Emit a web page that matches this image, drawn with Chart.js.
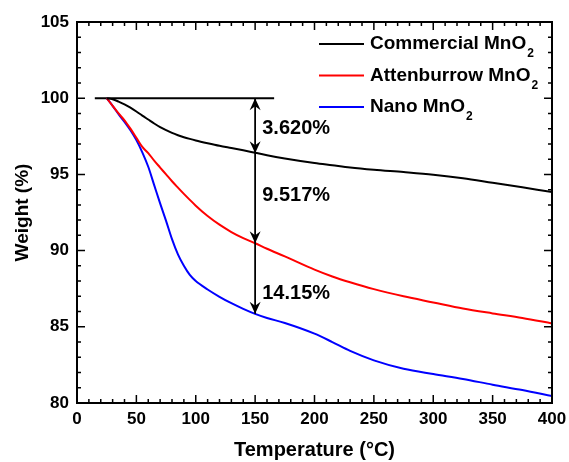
<!DOCTYPE html>
<html>
<head>
<meta charset="utf-8">
<script src="https://cdn.jsdelivr.net/npm/chart.js@4.4.0/dist/chart.umd.min.js"></script>
<style>
  html, body { margin: 0; padding: 0; background: #fff; }
</style>
</head>
<body>
<canvas id="tgaChart" width="569" height="462"></canvas>
<script>
// temperature (°C) and weight (%)
const temps       = [25, 30, 35, 40, 45, 50, 55, 60, 65, 70, 75, 80, 85, 90, 95, 100, 110, 120, 130, 140, 150, 160, 175, 200, 215, 230, 250, 275, 300, 325, 350, 375, 400];
const commercial  = [100, 99.93, 99.78, 99.6, 99.38, 99.13, 98.86, 98.6, 98.34, 98.1, 97.9, 97.72, 97.57, 97.44, 97.33, 97.23, 97.05, 96.88, 96.73, 96.58, 96.42, 96.26, 96.05, 95.75, 95.6, 95.45, 95.3, 95.15, 94.98, 94.75, 94.45, 94.15, 93.85];
const attenburrow = [100, 99.5, 99.0, 98.55, 98.0, 97.4, 96.8, 96.4, 95.9, 95.45, 95.0, 94.55, 94.13, 93.72, 93.33, 92.95, 92.27, 91.7, 91.22, 90.82, 90.48, 90.12, 89.62, 88.75, 88.3, 87.92, 87.47, 87.0, 86.6, 86.2, 85.88, 85.58, 85.22];
const nano        = [100, 99.5, 98.95, 98.45, 97.9, 97.25, 96.45, 95.5, 94.3, 93.1, 91.95, 90.75, 89.75, 89.0, 88.4, 88.0, 87.45, 86.97, 86.55, 86.18, 85.85, 85.58, 85.25, 84.55, 84.0, 83.42, 82.8, 82.25, 81.9, 81.58, 81.2, 80.85, 80.45];

const seriesNames = ['Commercial MnO', 'Attenburrow MnO', 'Nano MnO'];
const seriesColors = ['#000000', '#ff0000', '#0000ff'];

// reference line at 100 % and the weight-loss arrow at 150 °C
const refLineX = [15, 166];
const refLineY = [100, 100];
const arrowT = 150;
const arrowStops = [100, 96.38, 90.48, 85.85];
const lossLabels = ['3.620%', '9.517%', '14.15%'];
const lossLabelY = [98.0, 93.6, 87.2];
const lossLabelT = 156;

const toPoints = (xs, ys) => xs.map((t, i) => ({ x: t, y: ys[i] }));

const boldFont = (size) => ({ family: 'Liberation Sans, Arial, sans-serif', size: size, weight: 'bold' });

const decor = {
  id: 'decor',
  afterDatasetsDraw(chart) {
    const { ctx, chartArea: a, scales: { x, y } } = chart;
    ctx.save();
    ctx.strokeStyle = '#000';
    ctx.fillStyle = '#000';

    // inward ticks on all four sides
    ctx.lineWidth = 1.5;
    ctx.beginPath();
    for (let v = 0; v <= 400; v += 10) {
      const px = x.getPixelForValue(v);
      const len = v % 50 === 0 ? 8 : 4;
      ctx.moveTo(px, a.bottom); ctx.lineTo(px, a.bottom - len);
      ctx.moveTo(px, a.top); ctx.lineTo(px, a.top + len);
    }
    for (let v = 80; v <= 105; v += 1) {
      const py = y.getPixelForValue(v);
      const len = v % 5 === 0 ? 8 : 4;
      ctx.moveTo(a.left, py); ctx.lineTo(a.left + len, py);
      ctx.moveTo(a.right, py); ctx.lineTo(a.right - len, py);
    }
    ctx.stroke();

    // frame
    ctx.lineWidth = 2;
    ctx.strokeRect(a.left, a.top, a.right - a.left, a.bottom - a.top);

    // vertical arrow
    const ax = x.getPixelForValue(arrowT);
    ctx.lineWidth = 1.8;
    ctx.beginPath();
    ctx.moveTo(ax, y.getPixelForValue(arrowStops[0]));
    ctx.lineTo(ax, y.getPixelForValue(arrowStops[arrowStops.length - 1]));
    ctx.stroke();
    const head = (py, dir) => {
      ctx.beginPath();
      ctx.moveTo(ax, py);
      ctx.lineTo(ax - 5.5, py - dir * 12);
      ctx.lineTo(ax, py - dir * 8);
      ctx.lineTo(ax + 5.5, py - dir * 12);
      ctx.closePath();
      ctx.fill();
    };
    head(y.getPixelForValue(arrowStops[0]), -1);
    for (let i = 1; i < arrowStops.length; i++) head(y.getPixelForValue(arrowStops[i]), 1);

    // loss labels
    ctx.font = 'bold 20px "Liberation Sans", Arial, sans-serif';
    ctx.textAlign = 'left';
    ctx.textBaseline = 'middle';
    lossLabels.forEach((txt, i) => {
      ctx.fillText(txt, x.getPixelForValue(lossLabelT), y.getPixelForValue(lossLabelY[i]));
    });

    // legend with subscript 2
    seriesNames.forEach((name, i) => {
      const rowY = a.top + 22 + i * 31.5;
      ctx.strokeStyle = seriesColors[i];
      ctx.lineWidth = 2;
      ctx.beginPath();
      ctx.moveTo(a.right - 233, rowY);
      ctx.lineTo(a.right - 188, rowY);
      ctx.stroke();
      ctx.fillStyle = '#000';
      ctx.font = 'bold 19px "Liberation Sans", Arial, sans-serif';
      const tx = a.right - 182;
      ctx.fillText(name, tx, rowY);
      const w = ctx.measureText(name).width;
      ctx.font = 'bold 12px "Liberation Sans", Arial, sans-serif';
      ctx.fillText('2', tx + w + 1, rowY + 10);
    });
    ctx.restore();
  }
};

new Chart(document.getElementById('tgaChart'), {
  type: 'scatter',
  data: {
    datasets: [
      { data: toPoints(temps, commercial), borderColor: seriesColors[0] },
      { data: toPoints(temps, attenburrow), borderColor: seriesColors[1] },
      { data: toPoints(temps, nano), borderColor: seriesColors[2] },
      { data: toPoints(refLineX, refLineY), borderColor: '#000', cubicInterpolationMode: 'default', tension: 0 }
    ].map(d => Object.assign({ showLine: true, pointRadius: 0, borderWidth: 2, cubicInterpolationMode: 'monotone' }, d))
  },
  options: {
    responsive: false,
    animation: false,
    devicePixelRatio: 1,
    layout: { padding: { top: 22, right: 17, left: 0, bottom: 0 } },
    plugins: { legend: { display: false }, tooltip: { enabled: false } },
    scales: {
      x: {
        type: 'linear', min: 0, max: 400,
        grid: { display: false, drawTicks: false },
        border: { display: false },
        ticks: { stepSize: 50, color: '#000', font: boldFont(17), padding: 6, maxRotation: 0 },
        title: { display: true, text: 'Temperature (°C)', color: '#000', font: boldFont(20), padding: { top: 0, bottom: 0 } },
        afterFit(scale) {
          scale.height = 59;
          scale.paddingLeft = 0;
          scale.paddingRight = 0;
        }
      },
      y: {
        min: 80, max: 105,
        grid: { display: false, drawTicks: false },
        border: { display: false },
        ticks: { stepSize: 5, color: '#000', font: boldFont(17), padding: 8 },
        title: { display: true, text: 'Weight (%)', color: '#000', font: boldFont(19), padding: { top: 11, bottom: 0 } },
        afterFit(scale) { scale.width = 77; }
      }
    }
  },
  plugins: [decor]
});
</script>
</body>
</html>
